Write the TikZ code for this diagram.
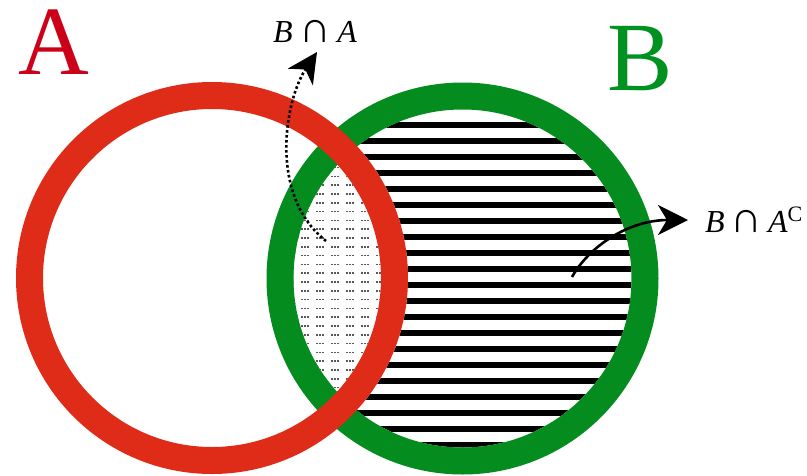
\documentclass[tikz,border=0pt]{standalone}
\usepackage{fontspec}
\setmainfont{Liberation Serif}
\usetikzlibrary{arrows.meta}
\definecolor{ringred}{RGB}{222,44,24}
\definecolor{ringgreen}{RGB}{4,140,30}
\definecolor{letterred}{RGB}{204,0,24}
\definecolor{lettergreen}{RGB}{0,146,32}
\newcommand{\mycapsym}{{\fontsize{44}{44}\selectfont ∩}}
\begin{document}
\begin{tikzpicture}[x=1pt,y=-1pt,
  ring/.style={line width=27pt},
  bigletter/.style={font=\fontsize{98}{98}\selectfont, inner sep=0pt, anchor=base west},
  setlabel/.style={font=\fontsize{32}{32}\selectfont, inner sep=0pt, anchor=base west},
  pointer/.style={-{Stealth[length=30pt,width=30pt,inset=9pt]}},
  dotrow/.style={black!65, line width=1.5pt, dash pattern=on 1.5pt off 1.7pt on 1.5pt off 1.7pt on 1.5pt off 7.1pt},
  stripe/.style={fill=black}]
\useasboundingbox (0,0) rectangle (807,475);
\coordinate (ca) at (212,278);
\coordinate (cb) at (462.5,278.5);
% stripes and dots
\begin{scope}
  \clip (cb) circle (169);
  \foreach \k in {0,...,20}
    \fill[stripe] (250,{125+16*\k-2.7}) rectangle (700,{125+16*\k+2.7});
  \fill[white] (ca) circle (196);
  \clip (ca) circle (169);
  \foreach \k in {0,...,30}
    \draw[dotrow] (286,{150+8.8*\k}) -- (400,{150+8.8*\k});
\end{scope}
% rings
\draw[ring, ringgreen] (cb) circle (182.5);
\draw[ring, ringred] (ca) circle (182.5);
% big letters
\node[bigletter, text=letterred] (la) at (18,74) {A};
\node[bigletter, text=lettergreen] (lb) at (607,90) {B};
% labels
\node[setlabel] (inter) at (273,42) {\textit{B}\hspace{0.2em}\mycapsym\hspace{0.2em}\textit{A}};
\node[setlabel] (diff) at (705,232) {\textit{B}\hspace{0.18em}\mycapsym\hspace{0.18em}\textit{A}\raisebox{11pt}{\fontsize{22}{22}\selectfont C}};
% arrows
\coordinate (s1) at (326,241);
\coordinate (e1) at (317,52);
\coordinate (s2) at (572,277);
\coordinate (e2) at (688,220);
\draw[pointer, line width=2.6pt, dash pattern=on 2.6pt off 2.4pt] (s1) .. controls (268,195) and (285,100) .. (e1);
\draw[pointer, line width=2.6pt] (s2) .. controls (590,245) and (630,220) .. (e2);
\end{tikzpicture}
\end{document}
